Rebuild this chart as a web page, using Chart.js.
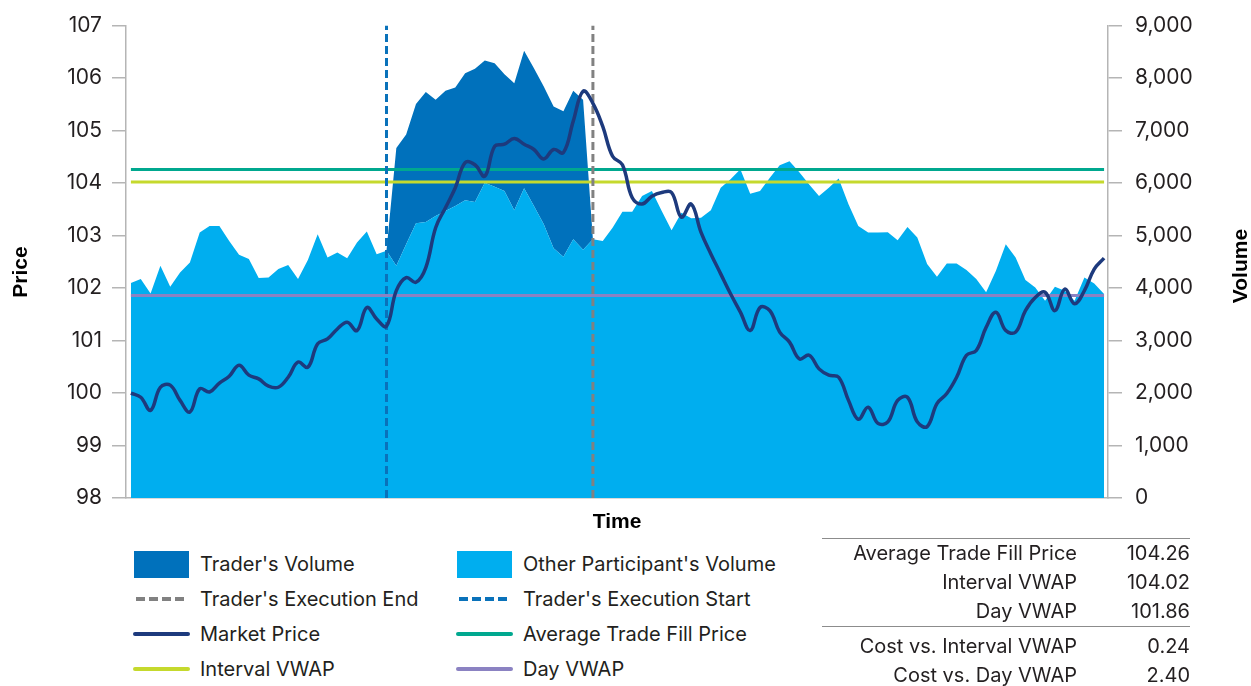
<!DOCTYPE html>
<html lang="en">
<head>
<meta charset="utf-8">
<title>Trader Execution vs. VWAP</title>
<script src="https://cdn.jsdelivr.net/npm/chart.js@4.4.1/dist/chart.umd.min.js"></script>
<style>
  html, body { margin: 0; padding: 0; background: #fff; }
  body {
    width: 1251px; height: 686px; position: relative; overflow: hidden;
    font-family: Inter, 'Liberation Sans', Arial, sans-serif; color: #231f20;
  }
  #chartBox { position: absolute; left: 0; top: 0; width: 1251px; height: 540px; }
  .axis-title {
    position: absolute; width: 120px; height: 24px; line-height: 24px;
    text-align: center; white-space: nowrap;
    font: bold 21px 'Liberation Sans', Arial, sans-serif; color: #000;
    transform: rotate(-90deg);
  }
  #legend { position: absolute; left: 133px; top: 547px; }
  .lg-item { position: absolute; height: 34px; display: flex; align-items: center; font-size: 20px; white-space: nowrap; }
  .lg-sym { width: 57px; margin-right: 10px; display: flex; align-items: center; justify-content: center; }
  .lg-box { width: 55px; height: 27px; }
  .lg-line { width: 57px; height: 4px; border-radius: 2px; }
  .lg-dash { width: 52px; height: 4px; }
  #stats { position: absolute; left: 822px; top: 538px; width: 368px; font-size: 20px; }
  #stats table { border-collapse: collapse; width: 100%; }
  #stats td { padding: 0; height: 29px; line-height: 29px; text-align: right; white-space: nowrap; }
  #stats td.val { width: 113px; }
  #stats tbody { border-top: 1.5px solid #8c8c8c; }
  #stats tbody + tbody td:first-child, #stats tbody + tbody td { }
  #stats tbody.costs tr:first-child td { padding-top: 5px; }
</style>
</head>
<body>
<div id="chartBox"><canvas id="execChart" width="1251" height="540"></canvas></div>
<div class="axis-title" style="left:-40px; top:260px;">Price</div>
<div class="axis-title" style="left:1180px; top:254px;">Volume</div>
<div id="legend"></div>
<div id="stats"></div>

<script>
// ---- data ----
const otherVolume = [
  4095, 4171, 3898, 4424, 4025, 4297, 4487, 5056, 5183, 5183,
  4898, 4633, 4551, 4190, 4202, 4361, 4437, 4171, 4532, 5025,
  4582, 4677, 4570, 4866, 5075, 4646, 4709, 4424, 4835, 5234,
  5259, 5373, 5468, 5563, 5671, 5639, 6005, 5930, 5848, 5481,
  5899, 5563, 5215, 4760, 4595, 4931, 4728, 4931, 4898, 5151,
  5455, 5455, 5753, 5848, 5468, 5101, 5436, 5329, 5341, 5481,
  5911, 6071, 6261, 5798, 5848, 6100, 6341, 6417, 6208, 5975,
  5753, 5911, 6088, 5595, 5183, 5056, 5056, 5063, 4912, 5164,
  4962, 4456, 4215, 4468, 4468, 4342, 4171, 3918, 4329, 4835,
  4582, 4152, 4012, 3759, 4025, 3949, 3759, 4202, 4088, 3886
];

const traderVolume = [
  0, 0, 0, 0, 0, 0, 0, 0, 0, 0,
  0, 0, 0, 0, 0, 0, 0, 0, 0, 0,
  0, 0, 0, 0, 0, 0, 0, 2246, 2089, 2271,
  2474, 2215, 2291, 2259, 2423, 2538, 2330, 2354, 2227, 2423,
  2620, 2626, 2626, 2701, 2771, 2828, 2860, 0, 0, 0,
  0, 0, 0, 0, 0, 0, 0, 0, 0, 0,
  0, 0, 0, 0, 0, 0, 0, 0, 0, 0,
  0, 0, 0, 0, 0, 0, 0, 0, 0, 0,
  0, 0, 0, 0, 0, 0, 0, 0, 0, 0,
  0, 0, 0, 0, 0, 0, 0, 0, 0, 0
];

const marketPrice = [
  100.00, 99.92, 99.67, 100.11, 100.15, 99.86, 99.64, 100.08, 100.02, 100.19,
  100.32, 100.53, 100.34, 100.27, 100.13, 100.11, 100.30, 100.59, 100.49, 100.94,
  101.03, 101.22, 101.35, 101.19, 101.63, 101.41, 101.27, 101.95, 102.20, 102.11,
  102.39, 103.15, 103.53, 103.91, 104.39, 104.35, 104.13, 104.70, 104.74, 104.85,
  104.74, 104.64, 104.46, 104.64, 104.58, 105.18, 105.75, 105.52, 105.08, 104.51,
  104.35, 103.72, 103.60, 103.75, 103.82, 103.82, 103.35, 103.60, 103.06, 102.65,
  102.27, 101.89, 101.54, 101.19, 101.63, 101.57, 101.16, 100.97, 100.65, 100.72,
  100.46, 100.34, 100.30, 99.86, 99.50, 99.73, 99.42, 99.45, 99.86, 99.92,
  99.45, 99.36, 99.80, 99.99, 100.30, 100.72, 100.81, 101.25, 101.54, 101.19,
  101.16, 101.57, 101.82, 101.92, 101.57, 101.98, 101.70, 101.95, 102.36, 102.57
];

// execution window (sample index of start / end markers)
const execStart = 26;
const execEnd = 47;

const avgFillPrice = 104.26;
const intervalVwap = 104.02;
const dayVwap = 101.86;

const priceTicks = [98, 107, 1];      // min, max, step
const volumeTicks = [0, 9000, 1000];

// ---- colours ----
const C = {
  trader: '#0071bc',
  other: '#00aeef',
  price: '#1d3a7d',
  fill: '#00a88f',
  interval: '#c5d92d',
  day: '#8b82c2',
  startDash: '#0a72ba',
  endDash: '#818181',
  axis: '#b5b5b5',
  text: '#231f20'
};

const lastIdx = marketPrice.length - 1;
const toPoints = arr => arr.map((v, i) => ({ x: i, y: v }));
const hLine = v => [{ x: 0, y: v }, { x: lastIdx, y: v }];
const vLine = i => [{ x: i, y: priceTicks[0] }, { x: i, y: priceTicks[1] }];

const tickFont = { family: 'Inter', size: 21 };

new Chart(document.getElementById('execChart'), {
  type: 'line',
  data: {
    datasets: [
      {
        label: "Other Participant's Volume",
        data: toPoints(otherVolume),
        yAxisID: 'yVol',
        backgroundColor: C.other,
        borderWidth: 0,
        pointRadius: 0,
        fill: 'origin',
        tension: 0,
        order: 10
      },
      {
        label: "Trader's Volume",
        data: toPoints(traderVolume),
        yAxisID: 'yVol',
        backgroundColor: C.trader,
        borderWidth: 0,
        pointRadius: 0,
        fill: '-1',
        tension: 0,
        order: 10
      },
      {
        label: 'Market Price',
        data: toPoints(marketPrice),
        yAxisID: 'yPrice',
        borderColor: C.price,
        borderWidth: 3.5,
        pointRadius: 0,
        fill: false,
        tension: 0.4,
        order: 0
      },
      {
        label: 'Average Trade Fill Price',
        data: hLine(avgFillPrice),
        yAxisID: 'yPrice',
        borderColor: C.fill,
        borderWidth: 3,
        pointRadius: 0,
        fill: false,
        order: 2
      },
      {
        label: 'Interval VWAP',
        data: hLine(intervalVwap),
        yAxisID: 'yPrice',
        borderColor: C.interval,
        borderWidth: 3,
        pointRadius: 0,
        fill: false,
        order: 2
      },
      {
        label: 'Day VWAP',
        data: hLine(dayVwap),
        yAxisID: 'yPrice',
        borderColor: C.day,
        borderWidth: 3,
        pointRadius: 0,
        fill: false,
        order: 2
      },
      {
        label: "Trader's Execution Start",
        data: vLine(execStart),
        yAxisID: 'yPrice',
        borderColor: C.startDash,
        borderWidth: 3,
        borderDash: [8, 4],
        pointRadius: 0,
        fill: false,
        order: 1
      },
      {
        label: "Trader's Execution End",
        data: vLine(execEnd),
        yAxisID: 'yPrice',
        borderColor: C.endDash,
        borderWidth: 3,
        borderDash: [8, 4],
        pointRadius: 0,
        fill: false,
        order: 1
      }
    ]
  },
  options: {
    responsive: false,
    animation: false,
    layout: { padding: { top: 24, left: 0, right: 0, bottom: 0 } },
    plugins: {
      legend: { display: false },
      tooltip: { enabled: false }
    },
    scales: {
      x: {
        type: 'linear',
        min: -0.5,
        max: lastIdx + 0.4,
        grid: { display: false },
        border: { color: C.axis, width: 1.5 },
        ticks: { display: false },
        title: {
          display: true,
          text: 'Time',
          color: '#000',
          font: { family: 'Liberation Sans', size: 21, weight: 'bold' },
          padding: { top: 0, bottom: 5 }
        },
        afterFit: s => { s.height = 42; }
      },
      yPrice: {
        position: 'left',
        min: priceTicks[0],
        max: priceTicks[1],
        grid: { drawOnChartArea: false, color: C.axis, lineWidth: 1.5, tickLength: 14 },
        border: { color: C.axis, width: 1.5 },
        ticks: { stepSize: priceTicks[2], color: C.text, font: tickFont, padding: 10 },
        afterFit: s => { s.width = 126; }
      },
      yVol: {
        position: 'right',
        stacked: true,
        min: volumeTicks[0],
        max: volumeTicks[1],
        grid: { drawOnChartArea: false, color: C.axis, lineWidth: 1.5, tickLength: 14 },
        border: { color: C.axis, width: 1.5 },
        ticks: {
          stepSize: volumeTicks[2],
          color: C.text,
          font: tickFont,
          padding: 13,
          callback: v => v.toLocaleString('en-US')
        },
        afterFit: s => { s.width = 143; }
      }
    }
  }
});

// ---- legend ----
const legendItems = [
  { label: "Trader's Volume", kind: 'box', color: C.trader },
  { label: "Other Participant's Volume", kind: 'box', color: C.other },
  { label: "Trader's Execution End", kind: 'dash', color: C.endDash },
  { label: "Trader's Execution Start", kind: 'dash', color: C.startDash },
  { label: 'Market Price', kind: 'line', color: C.price },
  { label: 'Average Trade Fill Price', kind: 'line', color: C.fill },
  { label: 'Interval VWAP', kind: 'line', color: C.interval },
  { label: 'Day VWAP', kind: 'line', color: C.day }
];

const legendEl = document.getElementById('legend');
legendItems.forEach((item, i) => {
  const row = Math.floor(i / 2), col = i % 2;
  const el = document.createElement('div');
  el.className = 'lg-item';
  el.style.left = (col * 323) + 'px';
  el.style.top = (row * 35) + 'px';
  const sym = document.createElement('span');
  sym.className = 'lg-sym';
  const mark = document.createElement('span');
  if (item.kind === 'box') {
    mark.className = 'lg-box';
    mark.style.background = item.color;
  } else if (item.kind === 'dash') {
    mark.className = 'lg-dash';
    mark.style.background = `repeating-linear-gradient(to right, ${item.color} 0 9px, transparent 9px 13px)`;
  } else {
    mark.className = 'lg-line';
    mark.style.background = item.color;
  }
  sym.appendChild(mark);
  el.appendChild(sym);
  el.appendChild(document.createTextNode(item.label));
  legendEl.appendChild(el);
});

// ---- summary table ----
const summaryRows = [
  ['Average Trade Fill Price', avgFillPrice],
  ['Interval VWAP', intervalVwap],
  ['Day VWAP', dayVwap]
];
const costRows = [
  ['Cost vs. Interval VWAP', avgFillPrice - intervalVwap],
  ['Cost vs. Day VWAP', avgFillPrice - dayVwap]
];
const rowsHtml = rows => rows.map(([k, v]) =>
  `<tr><td>${k}</td><td class="val">${v.toFixed(2)}</td></tr>`).join('');
document.getElementById('stats').innerHTML =
  `<table><tbody>${rowsHtml(summaryRows)}</tbody><tbody class="costs">${rowsHtml(costRows)}</tbody></table>`;
</script>
</body>
</html>
